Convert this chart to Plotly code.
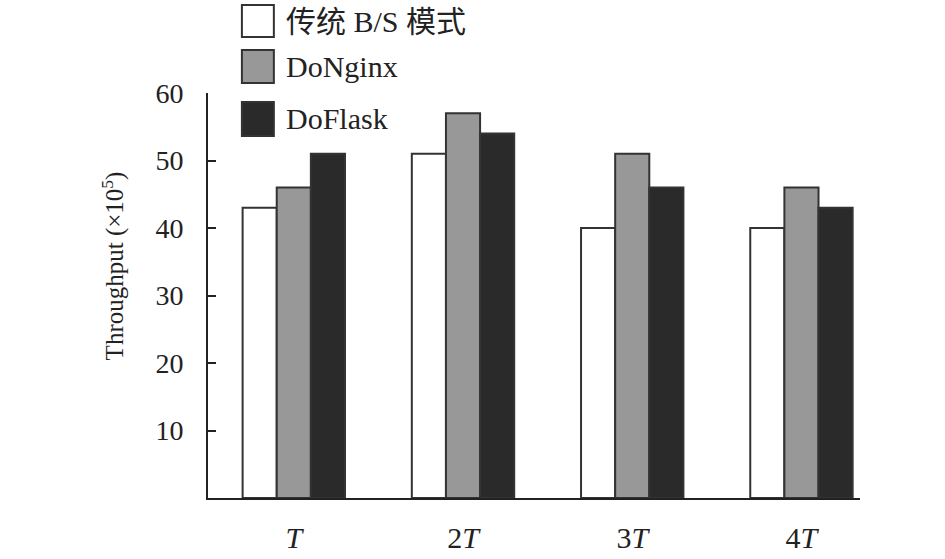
import plotly.graph_objects as go

# categories and series
periods = ["<i>T</i>", "2<i>T</i>", "3<i>T</i>", "4<i>T</i>"]
series_names = ["传统 B/S 模式", "DoNginx", "DoFlask"]
bs_values = [43, 51, 40, 40]
nginx_values = [46, 57, 51, 46]
flask_values = [51, 54, 46, 43]
y_ticks = [10, 20, 30, 40, 50, 60]

FONT = "Liberation Serif, Times New Roman, Noto Sans CJK SC, serif"
fills = ["#ffffff", "#989898", "#2b2a2b"]
outline = "#333333"

fig = go.Figure()
for name, vals, col in zip(series_names, [bs_values, nginx_values, flask_values], fills):
    fig.add_trace(go.Bar(
        x=periods, y=vals, name=name,
        marker=dict(color=col, line=dict(color=outline, width=2)),
    ))

# hand-drawn legend (big square swatches like the original)
swatch_y = [(1.138, 1.217), (1.025, 1.106), (0.894, 0.978)]
for name, col, (y0, y1) in zip(series_names, fills, swatch_y):
    fig.add_shape(type="rect", xref="paper", yref="paper",
                  x0=0.052, x1=0.101, y0=y0, y1=y1,
                  fillcolor=col, line=dict(color=outline, width=2))
    fig.add_annotation(xref="paper", yref="paper", x=0.116, y=(y0 + y1) / 2,
                       text=name, showarrow=False, xanchor="left", yanchor="middle",
                       font=dict(family=FONT, size=30, color="#222222"))

# y axis title as an annotation so it can sit a bit above centre
fig.add_annotation(xref="paper", yref="paper", x=-0.145, y=0.573,
                   text="Throughput (×10<sup>5</sup>)", textangle=-90,
                   showarrow=False, xanchor="center", yanchor="middle",
                   font=dict(family=FONT, size=25, color="#222222"))

fig.update_layout(
    width=945, height=559,
    margin=dict(l=208, r=85, t=93, b=61),
    barmode="group", bargap=0.395, bargroupgap=0,
    showlegend=False,
    plot_bgcolor="white", paper_bgcolor="white",
    font=dict(family=FONT, size=28, color="#222222"),
)
fig.update_xaxes(
    range=[-0.507, 3.346], showline=True, linecolor="#222222", linewidth=2,
    ticks="", showgrid=False, ticklabelstandoff=12, automargin=False,
    tickfont=dict(family=FONT, size=30),
)
fig.update_yaxes(
    range=[0, 60], tickvals=y_ticks, showline=True, linecolor="#222222", linewidth=2,
    ticks="inside", ticklen=8, tickwidth=2, tickcolor="#222222",
    showgrid=False, zeroline=False, ticklabelstandoff=17, automargin=False,
    tickfont=dict(family=FONT, size=28),
)

# drop the default 8px body margin so the figure fills the window exactly
fig.write_html("out.html", config={"displayModeBar": False},
               post_script="document.body.style.margin='0px';")
